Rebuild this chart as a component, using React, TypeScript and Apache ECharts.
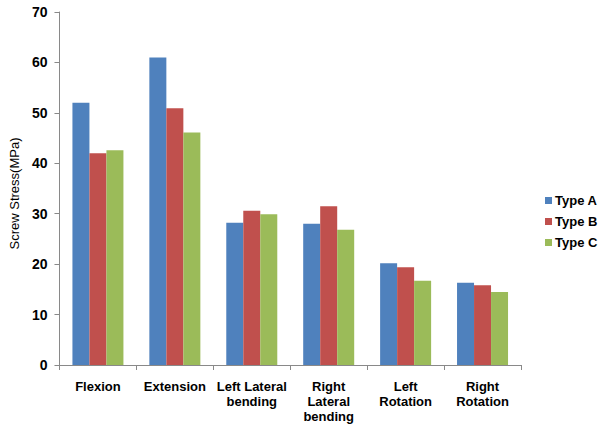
import React, { useEffect, useRef } from "react";
import * as echarts from "echarts";

const categories = [
  "Flexion",
  "Extension",
  "Left Lateral\nbending",
  "Right\nLateral\nbending",
  "Left\nRotation",
  "Right\nRotation",
];
const typeA = [52.0, 61.0, 28.2, 28.0, 20.2, 16.3];
const typeB = [42.0, 50.9, 30.6, 31.5, 19.4, 15.8];
const typeC = [42.6, 46.1, 29.9, 26.8, 16.7, 14.5];
const seriesNames = ["Type A", "Type B", "Type C"];
const colors = ["#4F81BD", "#C0504D", "#9BBB59"];

const FONT = "'Liberation Sans', Arial, sans-serif";

export default function App() {
  const ref = useRef<HTMLDivElement>(null);
  useEffect(() => {
    if (!ref.current) return;
    const chart = echarts.init(ref.current, undefined, { renderer: "svg" });
    const data = [typeA, typeB, typeC];
    chart.setOption({
      animation: false,
      backgroundColor: "#ffffff",
      textStyle: { fontFamily: FONT },
      grid: { left: 58, top: 12, right: 79, bottom: 67, containLabel: false },
      legend: {
        orient: "vertical",
        left: 540,
        top: 189,
        itemWidth: 7,
        itemHeight: 7,
        itemGap: 8,
        icon: "rect",
        textStyle: { fontFamily: FONT, fontSize: 13, fontWeight: "bold", color: "#000", padding: [0, 0, 0, -2] },
        data: seriesNames,
      },
      xAxis: {
        type: "category",
        data: categories,
        axisLine: { show: true, lineStyle: { color: "#898989", width: 1 } },
        axisTick: { show: true, length: 5, lineStyle: { color: "#898989" } },
        axisLabel: {
          interval: 0,
          margin: 14,
          fontFamily: FONT,
          fontSize: 13,
          fontWeight: "bold",
          color: "#000",
          lineHeight: 15,
        },
      },
      yAxis: {
        type: "value",
        min: 0,
        max: 70,
        interval: 10,
        name: "Screw Stress(MPa)",
        nameLocation: "middle",
        nameGap: 38,
        nameTextStyle: { fontFamily: FONT, fontSize: 13, color: "#000", padding: [0, 10, 0, 0] },
        axisLine: { show: true, lineStyle: { color: "#898989", width: 1 } },
        axisTick: { show: true, length: 5, lineStyle: { color: "#898989" } },
        splitLine: { show: false },
        axisLabel: {
          margin: 12,
          fontFamily: FONT,
          fontSize: 14,
          fontWeight: "bold",
          color: "#000",
        },
      },
      series: seriesNames.map((n, i) => ({
        name: n,
        type: "bar",
        data: data[i],
        barWidth: 17,
        barGap: "0%",
        itemStyle: { color: colors[i] },
      })),
    });
    return () => chart.dispose();
  }, []);
  return <div ref={ref} style={{ width: 600, height: 432, position: "absolute", left: 0, top: 0 }} />;
}
